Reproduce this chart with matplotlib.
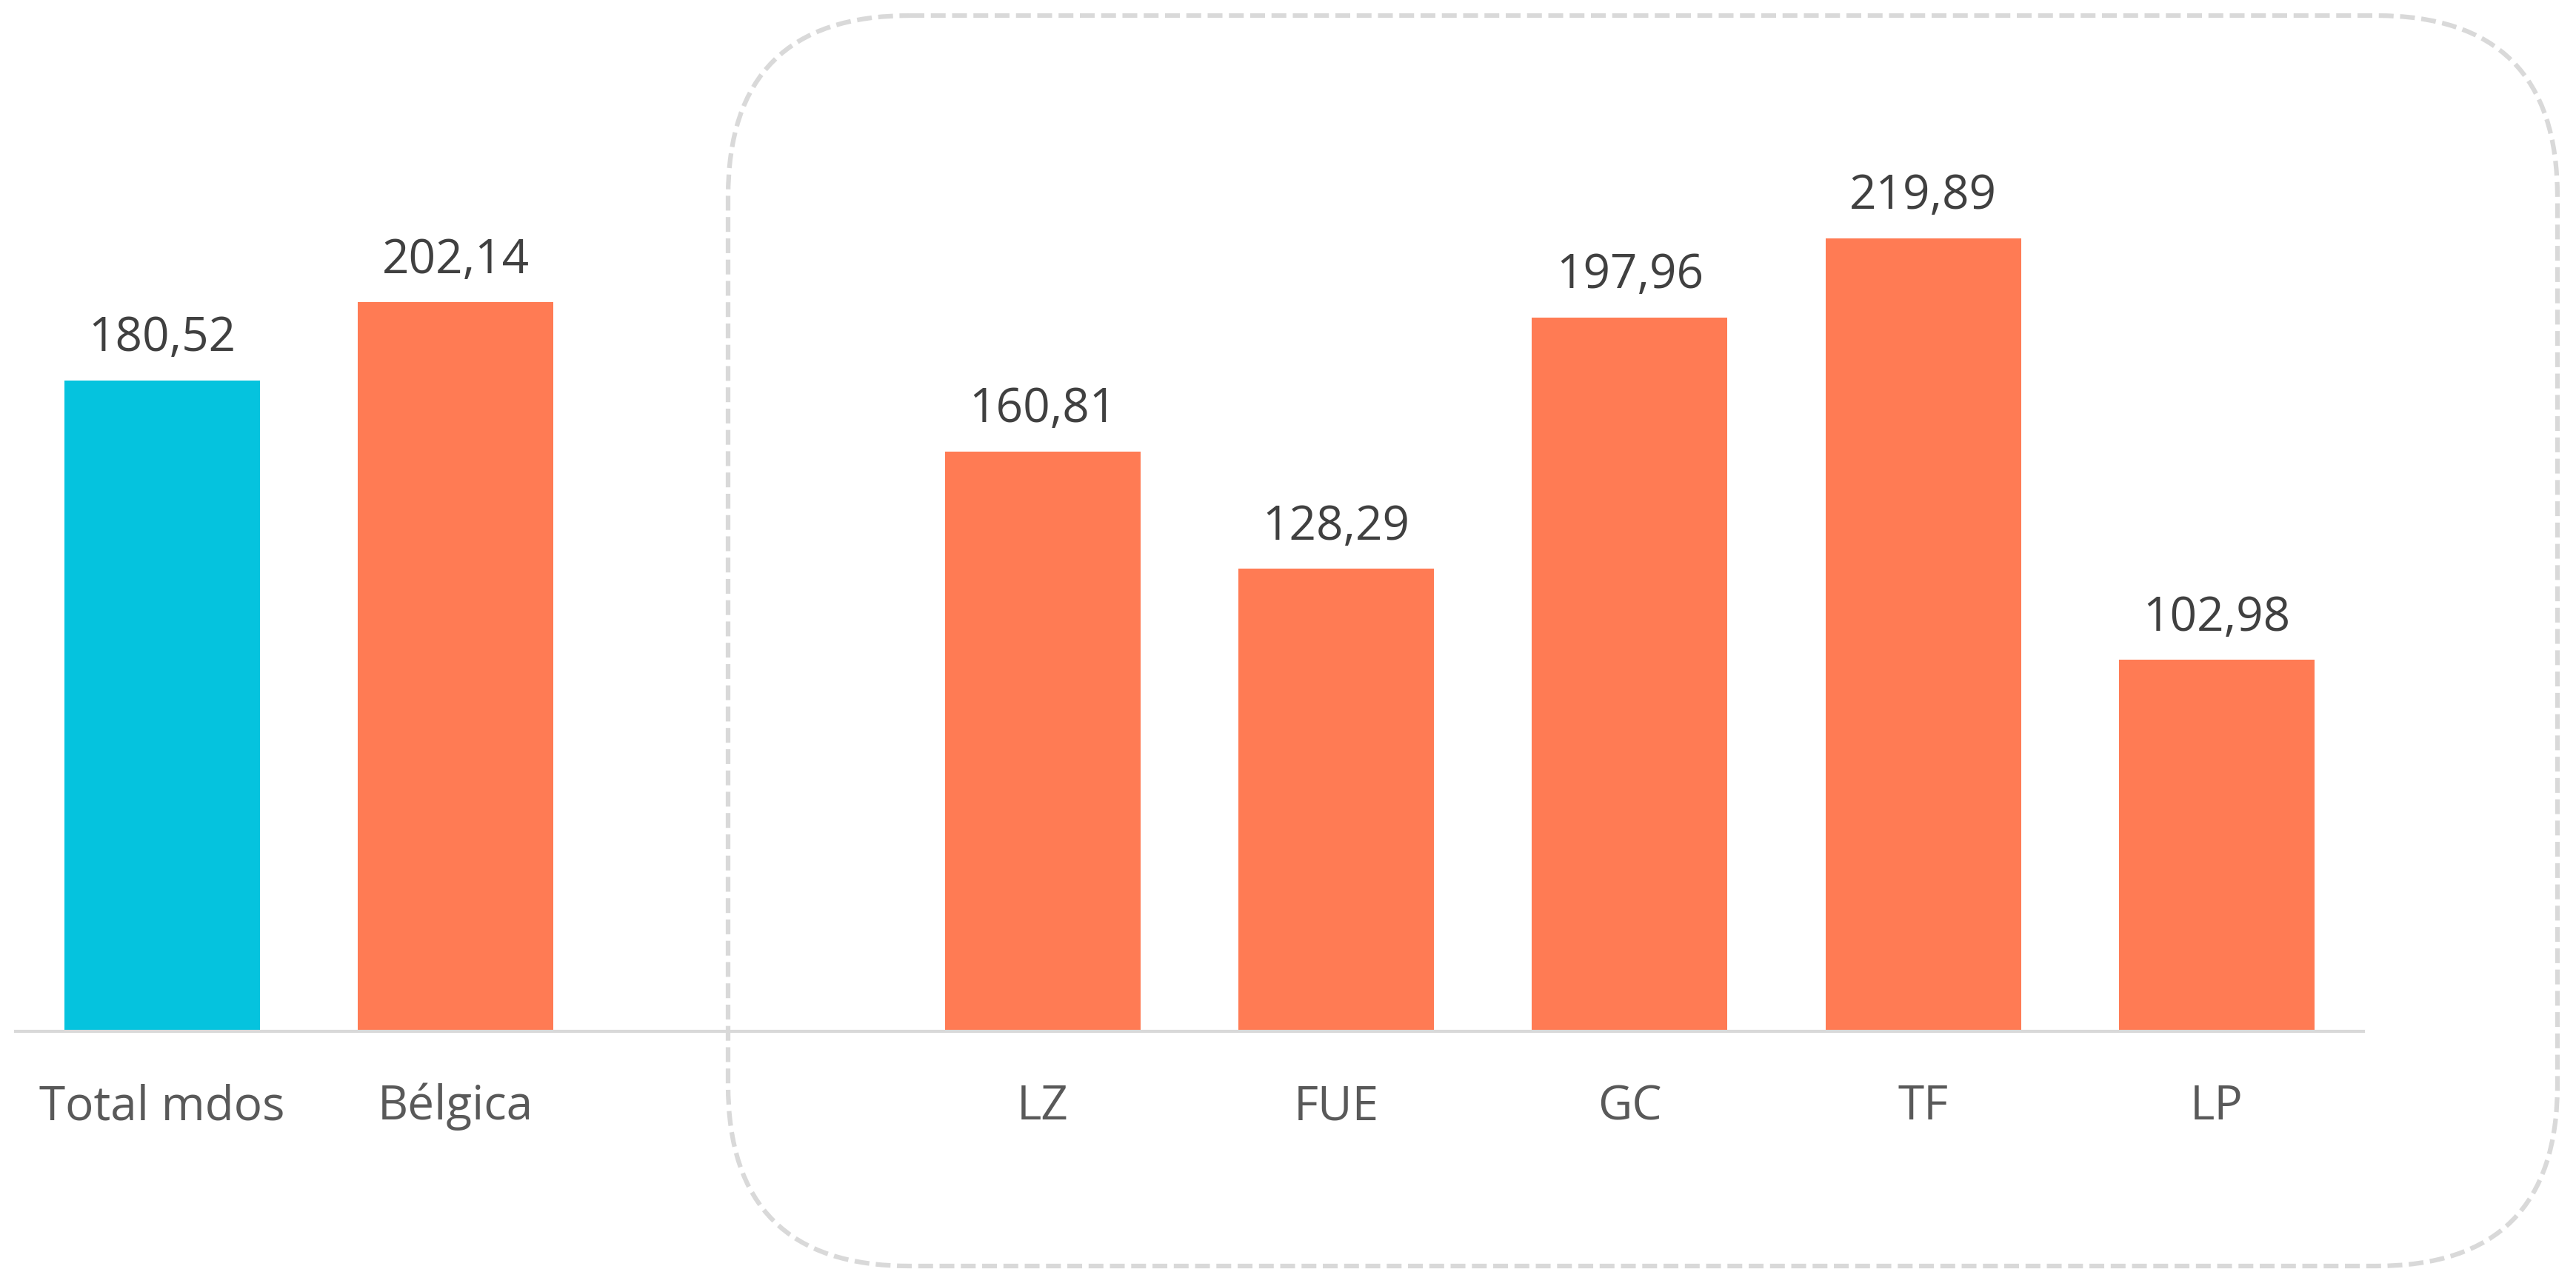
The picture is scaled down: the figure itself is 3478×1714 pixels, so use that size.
import numpy as np
import matplotlib
matplotlib.use("Agg")
from matplotlib import pyplot as plt
from matplotlib.patches import FancyBboxPatch

# data
categories = ["Total mdos", "Bélgica", "", "LZ", "FUE", "GC", "TF", "LP"]
values = [180.52, 202.14, np.nan, 160.81, 128.29, 197.96, 219.89, 102.98]
bar_colors = ["#05C3DE", "#FF7B54", "#FF7B54", "#FF7B54", "#FF7B54",
              "#FF7B54", "#FF7B54", "#FF7B54"]

plt.rcParams['font.family'] = ['Open Sans', 'DejaVu Sans']

W, H = 3478, 1715
dpi = 100
fig = plt.figure(figsize=(W / dpi, H / dpi), dpi=dpi)
fig.patch.set_facecolor("white")

# main axes, placed in pixels
ax = fig.add_axes([21 / W, 321 / H, 3170 / W, 1218 / H])
x = np.arange(len(categories))
ax.bar(x, values, width=0.666, color=bar_colors, zorder=2)

ax.set_xlim(-0.5, len(categories) - 0.5)
ax.set_ylim(0, 250)

for s in ["top", "right", "left"]:
    ax.spines[s].set_visible(False)
ax.spines["bottom"].set_color("#D9D9D9")
ax.spines["bottom"].set_linewidth(3)
ax.spines["bottom"].set_zorder(3)
ax.set_yticks([])
ax.set_xticks(x)
ax.set_xticklabels(categories, fontsize=46, color="#595959")
ax.tick_params(axis="x", length=0, pad=85)
for lab in ax.get_xticklabels():
    lab.set_va("baseline")
ax.set_facecolor("none")

# value labels
for xi, v in zip(x, values):
    if np.isnan(v):
        continue
    ax.annotate(f"{v:.2f}".replace(".", ","), xy=(xi, v), xytext=(0, 29),
                textcoords="offset points", ha="center", va="baseline",
                fontsize=46, color="#404040")

# dashed rounded box round the islands
bg = fig.add_axes([0, 0, 1, 1], zorder=-1)
bg.set_xlim(0, W)
bg.set_ylim(H, 0)
bg.axis("off")
box = FancyBboxPatch((983, 22), 3453 - 983, 1711 - 22,
                     boxstyle="round,pad=0,rounding_size=245",
                     fill=False, edgecolor="#D9D9D9", linewidth=4.5,
                     linestyle=(0, (3.2, 1.4)))
bg.add_patch(box)

fig.savefig("out.png", dpi=dpi)
